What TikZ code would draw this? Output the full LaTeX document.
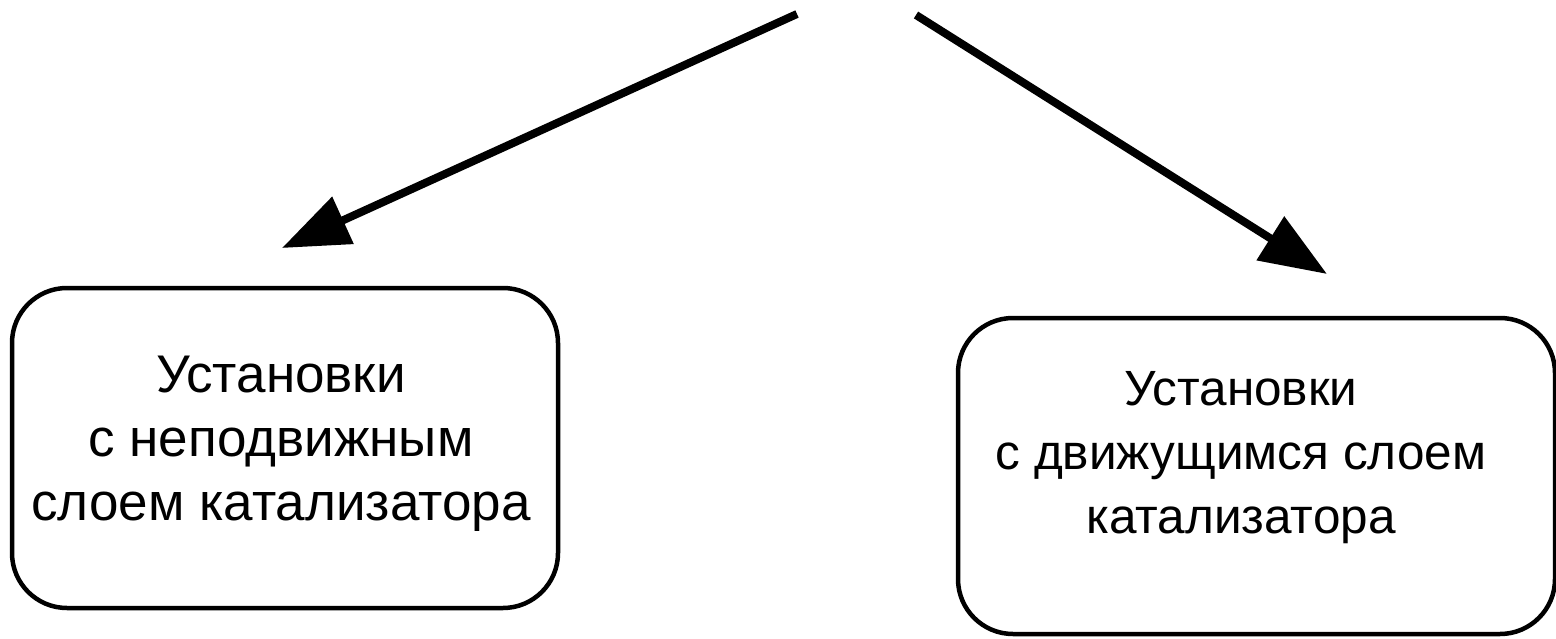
\documentclass[tikz,border=0pt]{standalone}
\usepackage{fontspec}
\setmainfont{Liberation Sans}
\usetikzlibrary{arrows.meta}
\begin{document}
\begin{tikzpicture}[x=1pt,y=-1pt,
  box/.style={draw=black,line width=4.5pt,rounded corners=55pt,fill=none,inner sep=0pt},
  label text/.style={align=center,inner sep=0pt,font=\fontsize{53}{64}\selectfont},
  small text/.style={align=center,inner sep=0pt,font=\fontsize{49.5}{64}\selectfont},
  conn/.style={line width=8pt,-{Triangle[length=67pt,width=50pt]}}]
\useasboundingbox (0,0) rectangle (1556,639);
\node[box,minimum width=546pt,minimum height=320pt] (lbox) at (285,448) {};
\node[box,minimum width=597pt,minimum height=316pt] (rbox) at (1256.5,476) {};
\node[label text] (ltext) at (281,444) {Установки\\с неподвижным\\слоем катализатора};
\node[small text] (rtext) at (1241,458) {Установки\\с движущимся слоем\\катализатора};
\coordinate (ls) at (797,14);
\coordinate (lt) at (282,248);
\coordinate (rs) at (916,15);
\coordinate (rt) at (1327,274);
\draw[conn] (ls) -- (lt);
\draw[conn] (rs) -- (rt);
\end{tikzpicture}
\end{document}
